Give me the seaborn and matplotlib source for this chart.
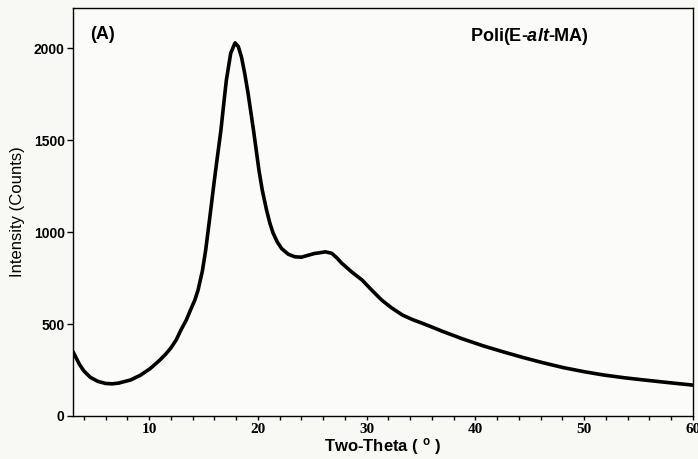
import numpy as np
import pandas as pd
import matplotlib
matplotlib.use('Agg')
import matplotlib.pyplot as plt
import seaborn as sns

# Difratograma
two_theta = [3.0, 3.3, 3.6, 4.0, 4.6, 5.3, 6.0, 6.6, 7.2, 8.3, 9.2, 10.1, 11.0,
             11.5, 12.0, 12.5, 12.9, 13.4, 13.8, 14.2, 14.5, 14.9, 15.2, 15.6,
             16.0, 16.3, 16.6, 16.9, 17.1, 17.5, 17.9, 18.2, 18.5, 18.8, 19.1,
             19.6, 20.1, 20.4, 20.8, 21.1, 21.4, 21.8, 22.2, 22.8, 23.4, 24.0,
             24.6, 25.2, 25.9, 26.2, 26.8, 27.3, 27.7, 28.2, 28.6, 29.1, 29.6,
             30.5, 31.4, 32.3, 33.3, 34.2, 35.1, 36.0, 37.0, 38.8, 40.7, 42.5,
             44.4, 46.2, 48.1, 50.0, 51.8, 53.7, 55.5, 57.7, 60.0]
intensity = [350, 315, 280, 245, 210, 188, 177, 175, 179, 196, 222, 258, 305,
             335, 370, 415, 465, 520, 576, 630, 685, 790, 902, 1090,
             1283, 1420, 1554, 1720, 1826, 1973, 2030, 2010, 1951, 1860, 1755,
             1554, 1337, 1230, 1120, 1050, 995, 945, 910, 880, 866, 864,
             874, 884, 890, 893, 885, 858, 832, 806, 785, 762, 739,
             683, 630, 588, 549, 525, 505, 484, 460, 420, 382, 350,
             318, 290, 263, 241, 223, 208, 196, 182, 168]

x_ticks = [10, 20, 30, 40, 50, 60]
y_ticks = [0, 500, 1000, 1500, 2000]

df = pd.DataFrame({'two_theta': two_theta, 'intensity': intensity})

sns.set_style('ticks')
plt.rcParams['font.family'] = ['Liberation Sans', 'DejaVu Sans']
plt.rcParams['mathtext.fontset'] = 'custom'
plt.rcParams['mathtext.it'] = 'Liberation Sans:italic:bold'
plt.rcParams['mathtext.bf'] = 'Liberation Sans:bold'
for k in ['text.color', 'axes.labelcolor', 'xtick.color', 'ytick.color']:
    plt.rcParams[k] = 'black'

fig = plt.figure(figsize=(6.98, 4.59), dpi=100, facecolor='#f8f8f5')
ax = fig.add_axes([0.1046, 0.0937, 0.888, 0.889])
ax.set_facecolor('#fbfbf9')

sns.lineplot(data=df, x='two_theta', y='intensity', color='black', linewidth=2.6, ax=ax)

ax.set_xlim(3, 60)
ax.set_ylim(0, 2220)
ax.set_xticks(x_ticks)
ax.set_xticks(np.arange(4, 60, 2), minor=True)
ax.set_yticks(y_ticks)
ax.tick_params(axis='x', which='both', length=3, width=1, direction='out', pad=2, color='black')
ax.tick_params(axis='y', length=4, width=1, direction='out', pad=2, color='black')
for lab in ax.get_xticklabels():
    lab.set_fontfamily('Liberation Serif')
    lab.set_fontweight('bold')
    lab.set_fontsize(11)
for lab in ax.get_yticklabels():
    lab.set_fontweight('bold')
    lab.set_fontsize(10)

for s in ax.spines.values():
    s.set_color('black')
    s.set_linewidth(1.0)

ax.set_xlabel(r'Two-Theta ( $^{\mathbf{o}}$ )', fontsize=12, fontweight='bold', labelpad=0)
ax.set_ylabel('Intensity (Counts)', fontsize=12, labelpad=6)

ax.text(0.027, 0.955, '(A)', transform=ax.transAxes, fontsize=13, fontweight='bold', va='top')
ax.text(0.64, 0.955, r'Poli(E-$\mathit{alt}$-MA)', transform=ax.transAxes, fontsize=13,
        fontweight='bold', va='top')

fig.savefig('out.png', dpi=100, facecolor=fig.get_facecolor())
